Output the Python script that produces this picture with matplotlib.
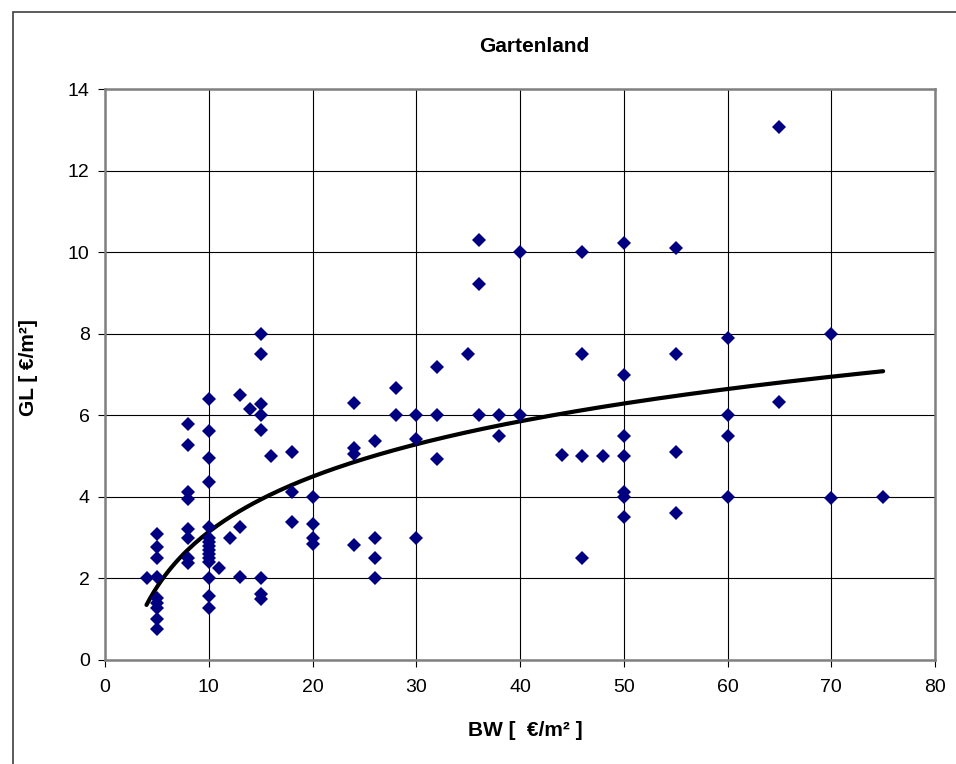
import numpy as np
import matplotlib
matplotlib.use("Agg")
import matplotlib.pyplot as plt
from matplotlib.patches import Rectangle

plt.rcParams['font.family'] = ['Liberation Sans', 'DejaVu Sans']

# Bodenwert (BW) und Gartenlandwert (GL)
bw = [4,
      5, 5, 5, 5, 5, 5, 5, 5, 5,
      8, 8, 8, 8, 8, 8, 8, 8,
      10, 10, 10, 10, 10, 10, 10, 10, 10, 10, 10, 10, 10, 10, 10,
      11, 12,
      13, 13, 13,
      14,
      15, 15, 15, 15, 15, 15, 15, 15,
      16,
      18, 18, 18,
      20, 20, 20, 20,
      24, 24, 24, 24,
      26, 26, 26, 26,
      28, 28,
      30, 30, 30,
      32, 32, 32,
      35,
      36, 36, 36,
      38, 38,
      40, 40,
      44,
      46, 46, 46, 46,
      48,
      50, 50, 50, 50, 50, 50, 50,
      55, 55, 55, 55,
      60, 60, 60, 60,
      65, 65,
      70, 70,
      75]
gl = [2.0,
      3.1, 2.78, 2.5, 2.03, 1.52, 1.4, 1.27, 1.0, 0.75,
      5.78, 5.27, 4.13, 3.95, 3.22, 3.0, 2.5, 2.38,
      6.4, 5.62, 4.95, 4.36, 3.27, 3.0, 2.9, 2.8, 2.7, 2.6, 2.5, 2.4, 2.0, 1.57, 1.28,
      2.25, 3.0,
      6.5, 3.25, 2.04,
      6.15,
      8.0, 7.5, 6.27, 6.0, 5.65, 2.0, 1.63, 1.5,
      5.0,
      5.1, 4.12, 3.38,
      4.0, 3.33, 3.0, 2.85,
      6.3, 5.2, 5.05, 2.82,
      5.38, 3.0, 2.5, 2.0,
      6.68, 6.0,
      6.0, 5.42, 3.0,
      7.18, 6.0, 4.92,
      7.5,
      10.3, 9.23, 6.0,
      6.0, 5.5,
      10.0, 6.0,
      5.03,
      10.0, 7.5, 5.0, 2.5,
      5.0,
      10.23, 7.0, 5.5, 5.0, 4.12, 4.0, 3.5,
      10.1, 7.5, 5.1, 3.6,
      7.9, 6.0, 5.5, 4.0,
      13.08, 6.33,
      8.0, 3.96,
      4.0]

trend_a = 1.955
trend_b = -1.36

x = np.array(bw, dtype=float)
y = np.array(gl, dtype=float)

fig = plt.figure(figsize=(9.56, 7.64), dpi=100)
ax = fig.add_axes([105/956, 1 - 660/764, 830/956, 571/764])

xt = np.linspace(x.min(), x.max(), 200)
ax.plot(xt, trend_a * np.log(xt) + trend_b, color='black', lw=3,
        solid_capstyle='round', zorder=3)

ax.plot(x, y, linestyle='none', marker='D', ms=7.6, color='#000080',
        markeredgewidth=0, zorder=4)

ax.set_xlim(0, 80)
ax.set_ylim(0, 14)
ax.set_xticks(range(0, 81, 10))
ax.set_yticks(range(0, 15, 2))
ax.grid(True, color='black', lw=0.8)
ax.set_axisbelow(True)
for s in ax.spines.values():
    s.set_color('#808080')
    s.set_linewidth(1.8)
ax.tick_params(direction='out', length=5, width=0.8, labelsize=14, color='black')
ax.tick_params(axis='x', pad=9)
ax.tick_params(axis='y', pad=6)

fig.text(525/956, 1 - 731/764, 'BW [  €/m² ]', ha='center', va='center',
         fontsize=15, fontweight='bold')
fig.text(28/956, 1 - 368/764, 'GL [ €/m²]', ha='center', va='center',
         rotation=90, fontsize=15, fontweight='bold')
fig.text(534/956, 1 - 47/764, 'Gartenland', ha='center', va='center',
         fontsize=15, fontweight='bold')

# Rahmen des Diagrammbereichs
fig.patches.append(Rectangle((13/956, -0.1), 1.2, 1 - 12/764 + 0.1,
                             transform=fig.transFigure, fill=False,
                             edgecolor='#404040', lw=1.2, clip_on=False))

fig.savefig('out.png', dpi=100)
